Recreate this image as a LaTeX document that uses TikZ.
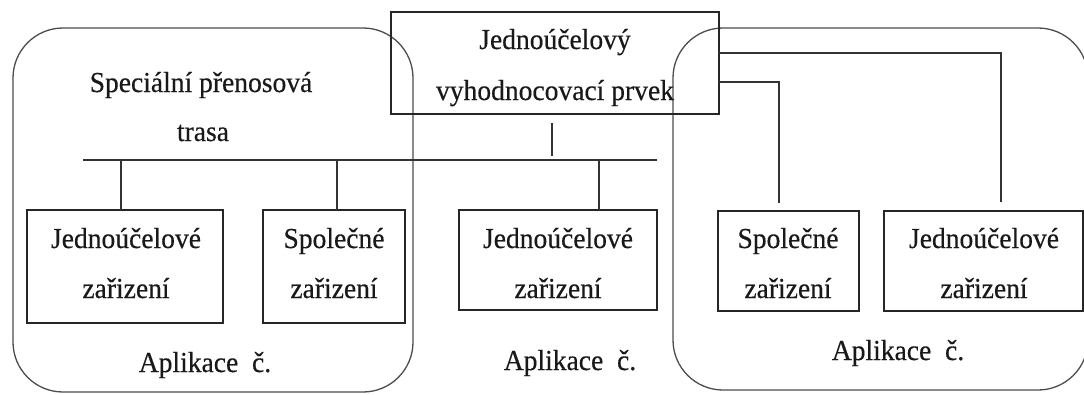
\documentclass[tikz,border=0pt]{standalone}
\usepackage{fontspec}
\setmainfont[FakeStretch=0.95,FakeBold=0.4]{Liberation Serif}
\begin{document}
\begin{tikzpicture}[x=1pt,y=-1pt,
  box/.style={draw=black!85, line width=1.4pt, minimum width=#1, inner sep=0pt},
  grp/.style={draw=black!70, line width=1.3pt, rounded corners=50pt, inner sep=0pt},
  lbl/.style={anchor=base, inner sep=0pt, font=\fontsize{29}{34}\selectfont, text=black!90},
  wire/.style={draw=black!80, line width=1.4pt}]
\useasboundingbox (0,0) rectangle (1084,394);
% groups
\node[grp, minimum width=400pt, minimum height=364pt] (gL) at (213,210) {};
\node[grp, minimum width=415pt, minimum height=362pt] (gR) at (880.5,209) {};
% top box
\node[box=328pt, minimum height=102pt] (T) at (555,63) {};
\node[lbl] (T1) at (555,49) {Jednoúčelový};
\node[lbl] (T2) at (555,100) {vyhodnocovací prvek};
% bus label
\node[lbl] (S1) at (201,92) {Speciální přenosová};
\node[lbl] (S2) at (203,141) {trasa};
% bus
\coordinate (busL) at (83,160);
\coordinate (busR) at (657,160);
\draw[wire] (busL) -- (busR);
% lower boxes
\node[box=196pt, minimum height=113pt] (B1) at (125,266.5) {};
\node[box=142pt, minimum height=113pt] (B2) at (334,266.5) {};
\node[box=198pt, minimum height=100pt] (B3) at (558,260) {};
\node[box=141pt, minimum height=100pt] (B4) at (788.5,261) {};
\node[box=199pt, minimum height=100pt] (B5) at (983.5,261) {};
% box texts
\node[lbl] at (126,248) {Jednoúčelové};
\node[lbl] at (126,298) {zařizení};
\node[lbl] at (334,248) {Společné};
\node[lbl] at (334,298) {zařizení};
\node[lbl] at (558,248) {Jednoúčelové};
\node[lbl] at (558,298) {zařizení};
\node[lbl] at (788,248) {Společné};
\node[lbl] at (788,298) {zařizení};
\node[lbl] at (984,248) {Jednoúčelové};
\node[lbl] at (984,298) {zařizení};
% application labels
\node[lbl] (A1) at (205,372) {Aplikace\ \ č.};
\node[lbl] (A2) at (570,370) {Aplikace\ \ č.};
\node[lbl] (A3) at (898,360) {Aplikace\ \ č.};
% connectors
\coordinate (tstubTop) at (552,123);
\coordinate (tstubBot) at (552,156);
\draw[wire] (tstubTop) -- (tstubBot);
\coordinate (d1a) at (121,160); \coordinate (d1b) at (121,210);
\coordinate (d2a) at (337,160); \coordinate (d2b) at (337,210);
\coordinate (d3a) at (599,160); \coordinate (d3b) at (599,210);
\coordinate (r1a) at (719,53); \coordinate (r1c) at (1001,53); \coordinate (r1b) at (1001,202);
\coordinate (r2a) at (719,82); \coordinate (r2c) at (779,82); \coordinate (r2b) at (779,203);
\draw[wire] (d1a) -- (d1b);
\draw[wire] (d2a) -- (d2b);
\draw[wire] (d3a) -- (d3b);
\draw[wire] (r1a) -- (r1c) -- (r1b);
\draw[wire] (r2a) -- (r2c) -- (r2b);
\end{tikzpicture}
\end{document}
